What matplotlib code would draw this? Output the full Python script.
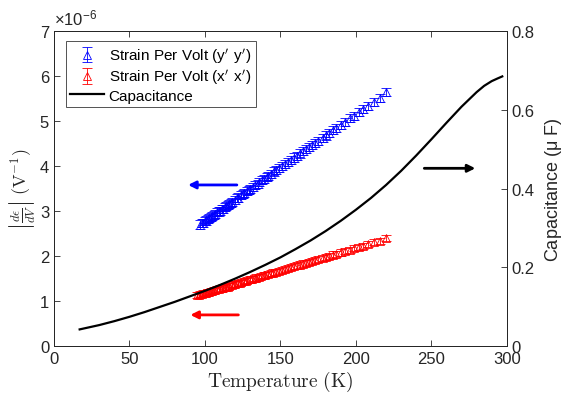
import matplotlib
matplotlib.use('Agg')
import matplotlib.pyplot as plt
from matplotlib.lines import Line2D

plt.rcParams['font.family'] = ['Liberation Sans', 'DejaVu Sans']
plt.rcParams['mathtext.fontset'] = 'cm'

# strain per volt, y'y' (units of 1e-6 V^-1)
T_yy = [97, 98, 99, 100, 101, 102, 103, 104, 105, 106, 107, 108, 109, 110, 111,
        112, 113, 114, 115, 116, 117, 118, 120, 121, 122, 124, 125, 126, 128, 129,
        130, 132, 133, 135, 136, 138, 139, 141, 142, 144, 146, 147, 149, 151, 153,
        155, 157, 159, 161, 163, 165, 167, 169, 171, 173, 175, 178, 180, 182, 185,
        187, 190, 193, 196, 199, 202, 205, 208, 212, 216, 220]
S_yy = [2.70, 2.73, 2.74, 2.78, 2.79, 2.83, 2.84, 2.87, 2.89, 2.92, 2.93, 2.97, 2.99, 3.01, 3.04,
        3.05, 3.09, 3.11, 3.13, 3.16, 3.17, 3.21, 3.25, 3.28, 3.30, 3.35, 3.37, 3.40, 3.44, 3.47,
        3.49, 3.54, 3.57, 3.61, 3.64, 3.68, 3.71, 3.76, 3.78, 3.83, 3.88, 3.91, 3.95, 4.00, 4.05,
        4.09, 4.14, 4.19, 4.23, 4.28, 4.33, 4.38, 4.42, 4.47, 4.52, 4.56, 4.63, 4.68, 4.73, 4.80,
        4.84, 4.91, 4.98, 5.06, 5.12, 5.20, 5.26, 5.33, 5.43, 5.52, 5.65]
err_yy = 0.09

# strain per volt, x'x'
T_xx = [95, 96, 97, 98, 99, 100, 101, 102, 103, 104, 105, 106, 107, 108, 109,
        110, 111, 112, 113, 114, 115, 116, 118, 119, 120, 122, 123, 124, 126, 127,
        128, 130, 131, 133, 134, 136, 137, 139, 140, 142, 144, 145, 147, 149, 151,
        153, 155, 157, 159, 161, 163, 165, 167, 169, 171, 173, 175, 178, 180, 182,
        185, 187, 190, 193, 196, 199, 202, 205, 208, 212, 216, 220]
S_xx = [1.13, 1.14, 1.15, 1.15, 1.17, 1.18, 1.18, 1.20, 1.20, 1.22, 1.22, 1.24, 1.24, 1.26, 1.26,
        1.28, 1.28, 1.30, 1.30, 1.32, 1.32, 1.34, 1.35, 1.37, 1.37, 1.40, 1.40, 1.42, 1.44, 1.45,
        1.46, 1.48, 1.49, 1.51, 1.52, 1.54, 1.55, 1.57, 1.58, 1.60, 1.62, 1.63, 1.65, 1.67, 1.69,
        1.71, 1.73, 1.75, 1.77, 1.79, 1.81, 1.83, 1.85, 1.87, 1.89, 1.91, 1.93, 1.96, 1.98, 2.00,
        2.03, 2.05, 2.08, 2.11, 2.14, 2.17, 2.20, 2.23, 2.26, 2.31, 2.34, 2.40]
err_xx = 0.07

# capacitance (uF)
T_cap = [17, 30, 40, 50, 60, 70, 80, 90, 100, 110, 120, 130, 140, 150, 160, 170,
         180, 190, 200, 210, 220, 230, 240, 250, 260, 270, 280, 285, 290, 294, 297]
C_cap = [0.042, 0.053, 0.063, 0.074, 0.086, 0.099, 0.112, 0.126, 0.140, 0.155, 0.171,
         0.188, 0.206, 0.225, 0.246, 0.268, 0.292, 0.318, 0.346, 0.376, 0.409, 0.445,
         0.484, 0.525, 0.567, 0.608, 0.645, 0.661, 0.673, 0.680, 0.685]

dark = '#262626'

fig = plt.figure(figsize=(5.66, 4.02), dpi=100)
ax = fig.add_axes([0.0954, 0.137, 0.8, 0.783])
ax2 = ax.twinx()

ax.errorbar(T_yy, S_yy, yerr=err_yy, fmt='^', color='blue', mfc='none', ms=6,
            mew=0.6, elinewidth=0.6, capsize=3.5, capthick=0.6, label="Strain Per Volt (y$'$ y$'$)", zorder=3)
ax.errorbar(T_xx, S_xx, yerr=err_xx, fmt='^', color='red', mfc='none', ms=6,
            mew=0.6, elinewidth=0.6, capsize=3.5, capthick=0.6, label="Strain Per Volt (x$'$ x$'$)", zorder=3)
ax2.plot(T_cap, C_cap, color='black', lw=1.6)

ax.set_xlim(0, 300)
ax.set_ylim(0, 7)
ax2.set_ylim(0, 0.8)
ax.set_xticks(range(0, 301, 50))
ax.set_yticks(range(0, 8))
ax2.set_yticks([0, 0.2, 0.4, 0.6, 0.8])
ax2.set_yticklabels(['0', '0.2', '0.4', '0.6', '0.8'])

for a in (ax, ax2):
    a.tick_params(direction='in', labelsize=12, colors=dark, length=4, width=0.6)
    for s in a.spines.values():
        s.set_color(dark)
        s.set_linewidth(0.7)
ax.tick_params(top=True)

ax.set_xlabel(r'$\mathrm{Temperature\ (K)}$', fontsize=14, color=dark, labelpad=2)
ax.set_ylabel(r'$\left|\frac{d\epsilon}{dV}\right|\ \mathrm{(V^{-1})}$', fontsize=13, color=dark, labelpad=2)
ax2.set_ylabel(r'Capacitance ($\mathregular{\mu}$ F)', fontsize=13, color=dark, labelpad=6)
ax.text(0.0, 1.012, r'$\mathregular{\times10^{-6}}$', transform=ax.transAxes, fontsize=12,
        color=dark, va='bottom', ha='left')

# direction arrows
arr = dict(arrowstyle='-|>', lw=2.0, mutation_scale=11)
ax.annotate('', xy=(87, 3.58), xytext=(123, 3.58), arrowprops=dict(arr, color='blue'))
ax.annotate('', xy=(88.5, 0.69), xytext=(124, 0.69), arrowprops=dict(arr, color='red'))
ax.annotate('', xy=(281, 3.95), xytext=(243.5, 3.95), arrowprops=dict(arr, color='black'))

h, l = ax.get_legend_handles_labels()
h.append(Line2D([], [], color='black', lw=1.6))
l.append('Capacitance')
leg = ax.legend(h, l, loc='upper left', bbox_to_anchor=(0.026, 0.968), fontsize=11,
                frameon=True, fancybox=False, borderpad=0.3, handlelength=2.2,
                handletextpad=0.3, labelspacing=0.15, borderaxespad=0)
leg.get_frame().set_edgecolor(dark)
leg.get_frame().set_linewidth(0.7)

fig.savefig('out.png', dpi=100)
